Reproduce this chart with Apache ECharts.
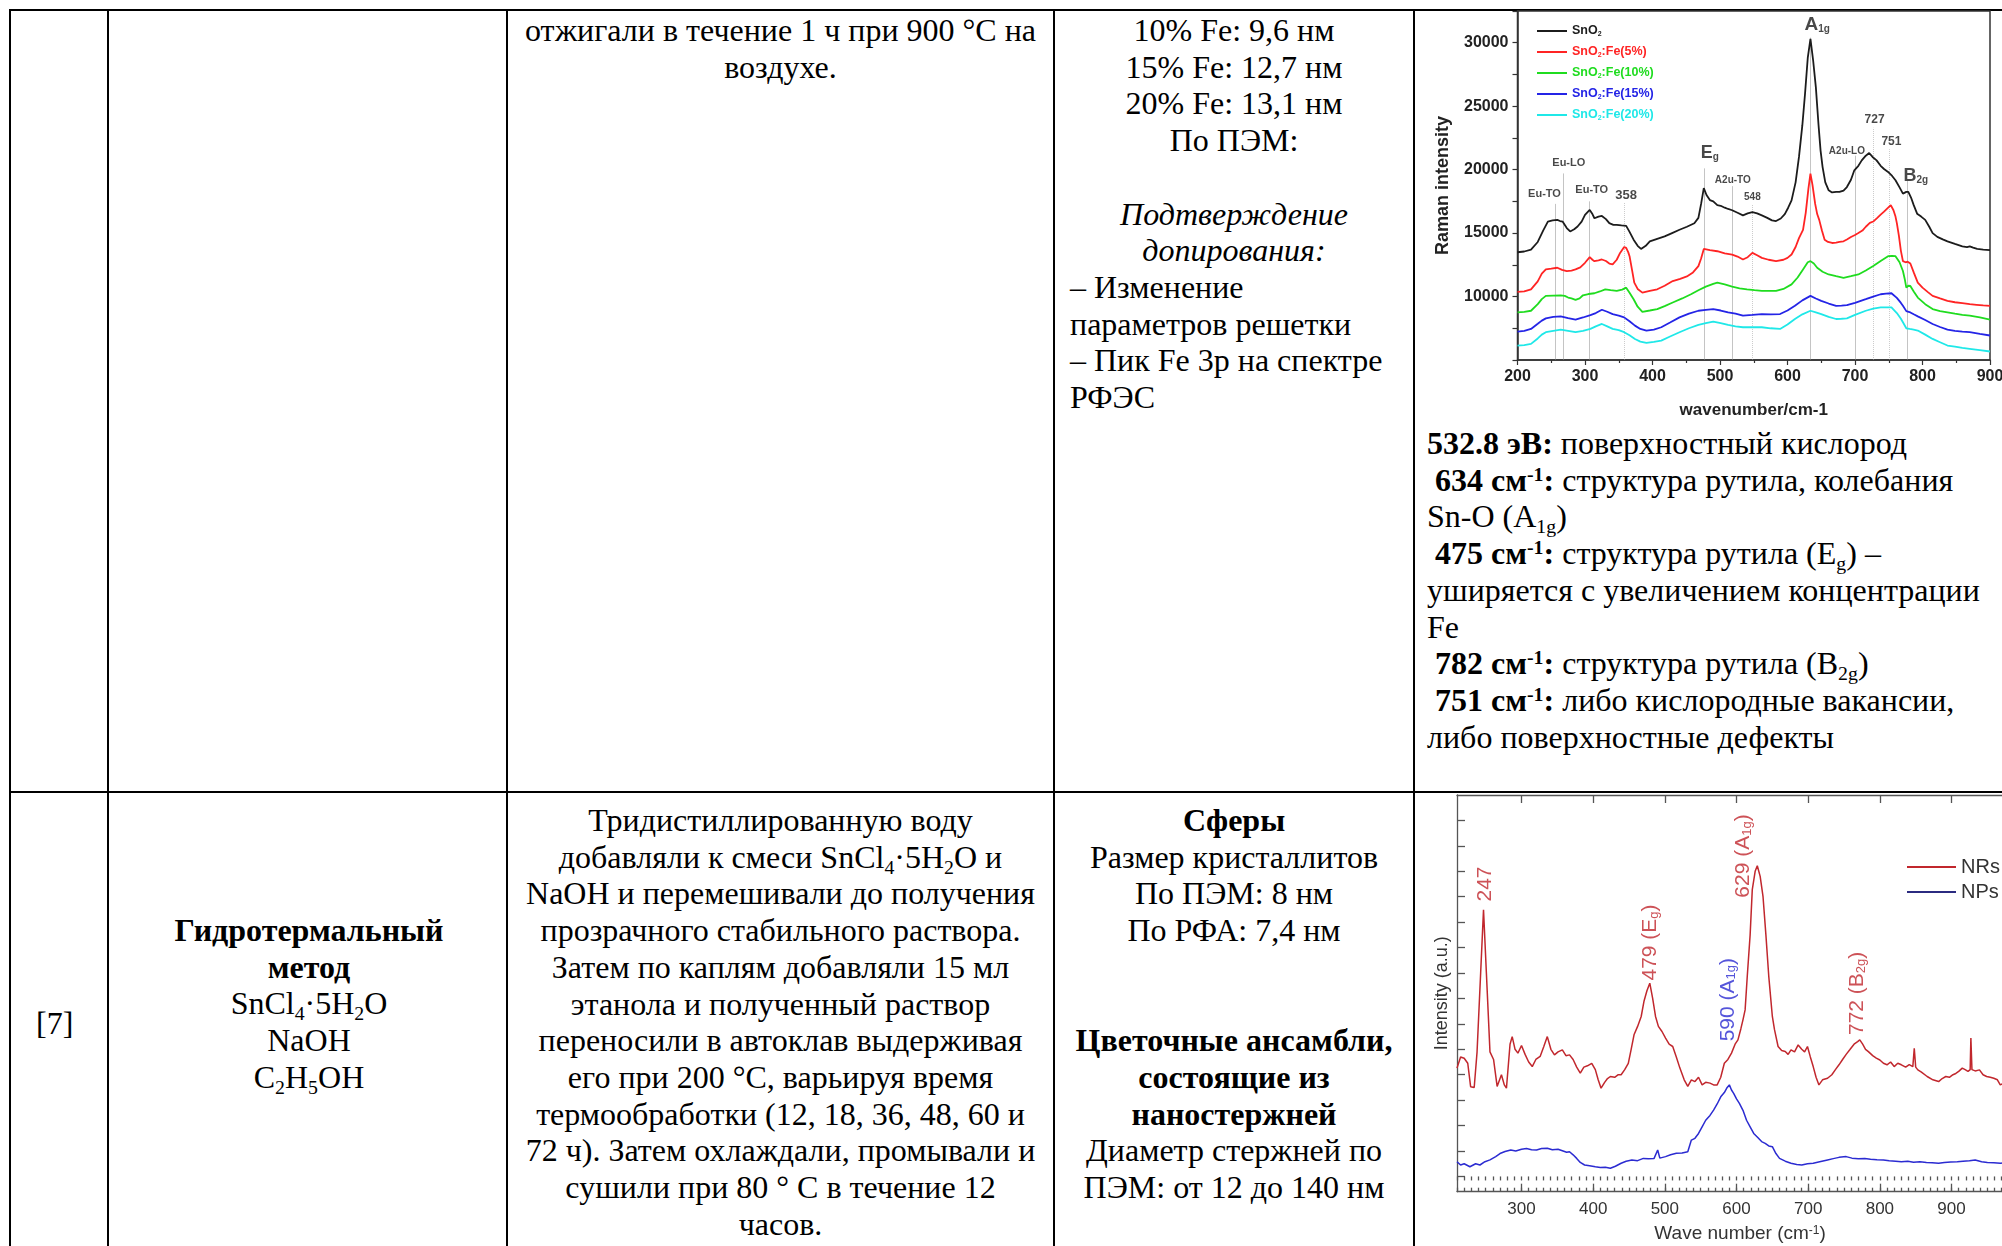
<!DOCTYPE html>
<html>
<head>
<meta charset="utf-8">
<script src="https://cdn.jsdelivr.net/npm/echarts@6/dist/echarts.min.js"></script>
<style>
html,body{margin:0;padding:0;width:2002px;height:1246px;overflow:hidden;background:#fff;}
#page{position:absolute;left:0;top:0;width:2002px;height:1246px;}
.ln{position:absolute;background:#000;}
.cell{position:absolute;font-family:'Liberation Serif','Times New Roman',serif;font-size:32px;line-height:36.7px;color:#000;white-space:nowrap;}
.c{text-align:center;}
sub{font-size:0.62em;line-height:0;vertical-align:-0.28em;}
sup{font-size:0.62em;line-height:0;vertical-align:0.5em;}
#chart{position:absolute;left:0;top:0;width:2100px;height:1246px;}
</style>
</head>
<body>
<div id="page">
  <!-- table rules -->
  <div class="ln" style="left:9px;top:9px;width:2000px;height:2px"></div>
  <div class="ln" style="left:9px;top:791px;width:2000px;height:2px"></div>
  <div class="ln" style="left:9px;top:9px;width:2px;height:1240px"></div>
  <div class="ln" style="left:107px;top:9px;width:2px;height:1240px"></div>
  <div class="ln" style="left:506px;top:9px;width:2px;height:1240px"></div>
  <div class="ln" style="left:1053px;top:9px;width:2px;height:1240px"></div>
  <div class="ln" style="left:1413px;top:9px;width:2px;height:1240px"></div>

  <!-- row 1 -->
  <div class="cell c" style="left:509px;width:543px;top:12px">отжигали в течение 1 ч при 900 °C на<br>воздухе.</div>
  <div class="cell c" style="left:1058px;width:352px;top:12px">10% Fe: 9,6 нм<br>15% Fe: 12,7 нм<br>20% Fe: 13,1 нм<br>По ПЭМ:<br>&nbsp;<br><i>Подтверждение<br>допирования:</i></div>
  <div class="cell" style="left:1070px;top:268.9px">– Изменение<br>параметров решетки<br>– Пик Fe 3p на спектре<br>РФЭС</div>
  <div class="cell" style="left:1427px;top:425px"><b>532.8 эВ:</b> поверхностный кислород<br>&nbsp;<b>634 см<sup>-1</sup>:</b> структура рутила, колебания<br>Sn-O (A<sub>1g</sub>)<br>&nbsp;<b>475 см<sup>-1</sup>:</b> структура рутила (E<sub>g</sub>) –<br>уширяется с увеличением концентрации<br>Fe<br>&nbsp;<b>782 см<sup>-1</sup>:</b> структура рутила (B<sub>2g</sub>)<br>&nbsp;<b>751 см<sup>-1</sup>:</b> либо кислородные вакансии,<br>либо поверхностные дефекты</div>

  <!-- row 2 -->
  <div class="cell" style="left:36px;top:1005px">[7]</div>
  <div class="cell c" style="left:112px;width:394px;top:912px"><b>Гидротермальный<br>метод</b><br>SnCl<sub>4</sub>·5H<sub>2</sub>O<br>NaOH<br>C<sub>2</sub>H<sub>5</sub>OH</div>
  <div class="cell c" style="left:509px;width:543px;top:802px">Тридистиллированную воду<br>добавляли к смеси SnCl<sub>4</sub>·5H<sub>2</sub>O и<br>NaOH и перемешивали до получения<br>прозрачного стабильного раствора.<br>Затем по каплям добавляли 15 мл<br>этанола и полученный раствор<br>переносили в автоклав выдерживая<br>его при 200 °C, варьируя время<br>термообработки (12, 18, 36, 48, 60 и<br>72 ч). Затем охлаждали, промывали и<br>сушили при 80 ° С в течение 12<br>часов.</div>
  <div class="cell c" style="left:1058px;width:352px;top:802px"><b>Сферы</b><br>Размер кристаллитов<br>По ПЭМ: 8 нм<br>По РФА: 7,4 нм<br>&nbsp;<br>&nbsp;<br><b>Цветочные ансамбли,<br>состоящие из<br>наностержней</b><br>Диаметр стержней по<br>ПЭМ: от 12 до 140 нм</div>
</div>
<div id="chart"></div>
<script>
// ---- Raman spectra of SnO2 and Fe-doped SnO2: [wavenumber, intensity] ----
const sno2 = [[200,13490],[210,13550],[220,13700],[230,14300],[238,15200],[245,15900],[252,16000],[259,16040],[263,15950],[267,15900],[273,15400],[278,15130],[284,15300],[289,15520],[295,15900],[300,16430],[307,16820],[311,16500],[314,16170],[320,16300],[325,16350],[331,16100],[336,15780],[342,15650],[347,15650],[354,15600],[361,15570],[366,15100],[372,14480],[378,14000],[383,13750],[390,14000],[396,14350],[407,14550],[418,14740],[429,15000],[440,15260],[451,15500],[462,15780],[468,16200],[472,17300],[476,18550],[480,18000],[485,17600],[490,17500],[496,17200],[501,17150],[507,17000],[512,16900],[518,16800],[526,16600],[534,16400],[541,16550],[548,16650],[555,16550],[562,16400],[570,16200],[577,16000],[583,15950],[590,16150],[596,16500],[601,17000],[606,17580],[612,19000],[617,21000],[622,23500],[626,26000],[630,28800],[634,30300],[638,28600],[642,26500],[646,23500],[649,21500],[652,20200],[656,19000],[661,18370],[666,18200],[672,18250],[677,18240],[683,18350],[688,18630],[694,19200],[699,19950],[705,20300],[710,20730],[716,21100],[721,21310],[726,21000],[732,20730],[738,20300],[743,20050],[749,19820],[755,19500],[760,19160],[766,18600],[771,18110],[776,18250],[779,18240],[783,17800],[787,17200],[792,16530],[798,16300],[804,16040],[810,15500],[815,15000],[822,14700],[830,14500],[837,14350],[848,14150],[859,13960],[866,13900],[870,13950],[875,13850],[881,13750],[890,13700],[900,13650]];
const fe5 = [[200,10365],[210,10400],[220,10570],[230,11200],[236,11800],[242,12140],[250,12200],[259,12270],[266,12100],[273,12000],[280,12050],[286,12140],[293,12300],[300,12660],[307,13100],[311,12900],[314,12790],[320,12850],[325,12920],[331,12800],[336,12600],[341,12530],[347,12900],[352,13440],[358,13900],[361,13830],[364,13500],[366,13180],[370,12000],[373,11100],[378,10600],[385,10310],[396,10450],[407,10570],[418,10850],[430,11220],[441,11400],[452,11610],[460,11900],[468,12400],[472,13000],[476,13750],[485,13650],[496,13570],[507,13400],[518,13310],[526,13150],[534,12920],[541,13100],[548,13440],[555,13250],[562,13050],[572,12900],[583,12790],[594,12900],[600,13050],[606,13310],[612,13900],[617,14600],[623,15260],[627,16600],[631,18500],[634,19680],[637,18800],[641,17300],[644,16500],[647,16040],[651,15200],[655,14480],[660,14300],[666,14220],[672,14250],[677,14300],[683,14350],[688,14500],[694,14690],[700,14850],[705,15000],[711,15200],[716,15500],[722,15800],[727,15910],[733,16200],[738,16450],[743,16690],[748,16950],[753,17210],[757,16800],[760,16300],[762,15780],[765,14800],[768,13600],[771,12790],[775,12700],[778,12750],[782,12600],[787,11900],[793,11100],[800,10700],[808,10350],[815,10050],[826,9850],[837,9660],[848,9550],[859,9480],[870,9400],[880,9350],[890,9300],[900,9270]];
const fe10 = [[200,8750],[210,8800],[220,8880],[230,9400],[236,9800],[242,10050],[253,10080],[264,10100],[270,10050],[275,9920],[280,9850],[286,9740],[292,9850],[297,10100],[305,10200],[314,10260],[322,10400],[330,10570],[338,10500],[347,10440],[355,10550],[361,10700],[366,10300],[372,9790],[378,9200],[385,8800],[396,8900],[407,9010],[418,9250],[430,9530],[444,9850],[457,10180],[468,10500],[479,10780],[490,11000],[496,11090],[507,10950],[518,10780],[529,10650],[540,10570],[551,10500],[562,10440],[572,10440],[583,10440],[594,10600],[606,10960],[615,11500],[623,12140],[630,12700],[634,12790],[639,12600],[644,12270],[652,11950],[661,11740],[672,11600],[683,11480],[694,11600],[705,11740],[716,12050],[727,12400],[738,12800],[749,13180],[755,13200],[760,13180],[766,12700],[771,12010],[774,11300],[776,10700],[779,10850],[782,10830],[787,10400],[793,9920],[804,9400],[815,9010],[826,8850],[837,8750],[848,8650],[859,8560],[870,8490],[885,8350],[900,8180]];
const fe15 = [[200,7240],[210,7300],[220,7450],[230,7850],[236,8100],[242,8280],[253,8400],[264,8440],[275,8300],[286,8180],[297,8350],[308,8540],[316,8700],[325,8960],[333,8800],[341,8620],[350,8500],[358,8360],[366,8050],[374,7710],[382,7450],[391,7320],[402,7400],[413,7580],[426,7950],[440,8360],[454,8650],[468,8880],[479,8950],[490,9010],[501,8900],[512,8750],[523,8650],[534,8490],[548,8550],[562,8620],[575,8600],[589,8620],[600,8900],[611,9270],[622,9700],[634,10050],[642,9850],[650,9660],[661,9450],[672,9270],[680,9280],[688,9320],[700,9500],[716,9790],[727,10000],[738,10180],[746,10230],[754,10260],[762,9900],[768,9500],[771,9270],[776,8850],[782,8750],[787,8600],[793,8440],[804,8150],[815,7840],[826,7600],[837,7400],[848,7300],[859,7240],[870,7190],[885,7050],[900,6930]];
const fe20 = [[200,6140],[210,6180],[220,6270],[230,6700],[236,7000],[242,7190],[253,7300],[264,7400],[275,7300],[286,7190],[297,7300],[308,7450],[316,7650],[325,7840],[333,7650],[341,7450],[350,7350],[358,7190],[366,6950],[374,6660],[382,6450],[391,6350],[402,6420],[413,6530],[426,6850],[440,7190],[454,7500],[468,7760],[479,7900],[490,8020],[501,7900],[512,7760],[523,7650],[534,7580],[548,7580],[562,7580],[575,7500],[589,7450],[600,7800],[611,8230],[622,8600],[634,8880],[642,8750],[650,8620],[661,8400],[672,8230],[680,8250],[688,8280],[700,8550],[716,8880],[727,9050],[738,9140],[746,9150],[754,9140],[762,8700],[768,8250],[771,7970],[776,7500],[781,7450],[787,7400],[793,7320],[804,7000],[815,6660],[826,6400],[837,6140],[848,6050],[859,5950],[870,5880],[885,5780],[900,5670]];

const ramanNames = ['SnO2', 'SnO2:Fe(5%)', 'SnO2:Fe(10%)', 'SnO2:Fe(15%)', 'SnO2:Fe(20%)'];
const ramanColors = ['#1c1c1c', '#ff2424', '#1fdc1f', '#2424e6', '#1fe8e8'];
const ramanData = [sno2, fe5, fe10, fe15, fe20];
const ramanYLabels = [10000, 15000, 20000, 25000, 30000];

// phonon mode markers: position, top of the marker line, dotted or solid
const modeLineX = [256, 268, 307, 358, 477, 518, 548, 634, 700, 727, 751, 778];
const modeLineTop = [17300, 19700, 17500, 17400, 20100, 18700, 17300, 30400, 21100, 23300, 21600, 19100];
const modeLineDotted = [0, 0, 0, 1, 0, 0, 1, 0, 0, 1, 1, 0];
const modeNames = ['Eu-TO', 'Eu-LO', 'Eu-TO', '358', 'E{s|g}', 'A2u-TO', '548', 'A{s|1g}', 'A2u-LO', '727', '751', 'B{s|2g}'];
const modeNameX = [240, 276, 310, 361, 485, 519, 548, 644, 688, 729, 754, 790];
const modeNameY = [18100, 20500, 18400, 18000, 21300, 19200, 17850, 31400, 21450, 23900, 22200, 19500];
const modeNameSize = [11, 11, 11, 13, 18, 10, 10, 19, 10, 12, 12, 18];

// ---- hydrothermal SnO2: nanorods vs nanoparticles, [wavenumber, intensity a.u.] ----
const nrs = [[210,4.26],[215,4.7],[220,4.65],[225,4.45],[229,3.53],[234,3.5],[238,4.9],[243,8.0],[247,10.49],[251,8.0],[256,4.9],[261,4.6],[266,3.54],[272,4.0],[276,3.6],[279,3.47],[284,5.2],[287,5.5],[291,5.0],[295,4.85],[300,5.15],[305,4.8],[310,4.5],[315,4.32],[320,4.6],[326,4.72],[331,5.1],[336,5.5],[341,5.0],[346,4.78],[351,4.9],[357,4.98],[362,4.75],[367,4.78],[372,4.6],[377,4.3],[382,4.06],[387,4.3],[392,4.35],[398,4.45],[403,4.2],[407,3.8],[411,3.47],[416,3.7],[420,3.85],[424,3.93],[430,3.9],[435,4.0],[439,4.0],[444,4.2],[449,4.45],[453,5.0],[457,5.57],[462,5.9],[467,6.29],[471,6.9],[475,7.3],[479,7.6],[483,7.0],[487,6.29],[491,5.9],[496,5.7],[501,5.44],[506,5.2],[511,5.11],[516,4.7],[521,4.26],[527,3.8],[532,3.54],[537,3.8],[542,3.73],[547,3.9],[552,3.6],[557,3.7],[563,3.67],[568,3.6],[573,3.6],[578,3.9],[583,4.45],[588,4.6],[593,4.85],[598,5.2],[602,5.37],[606,5.8],[609,6.16],[612,6.55],[615,7.87],[619,9.5],[622,11.28],[626,12.0],[629,12.22],[633,11.8],[637,11.0],[641,9.5],[645,7.87],[650,6.29],[653,5.77],[658,5.11],[663,4.95],[668,4.91],[672,4.8],[676,4.98],[681,4.9],[686,5.17],[691,5.0],[695,4.9],[699,5.11],[703,4.7],[707,4.32],[711,3.9],[715,3.6],[720,3.8],[727,3.86],[733,4.0],[738,4.2],[743,4.39],[748,4.6],[753,4.8],[758,4.98],[764,5.2],[769,5.3],[772,5.37],[776,5.2],[780,5.0],[784,4.91],[790,4.75],[795,4.65],[800,4.58],[805,4.45],[810,4.39],[815,4.5],[820,4.32],[825,4.45],[830,4.39],[836,4.3],[841,4.4],[846,4.32],[848,5.04],[850,4.3],[853,4.19],[858,4.1],[866,3.93],[874,3.8],[882,3.73],[887,3.85],[892,3.93],[897,3.9],[902,4.0],[906,4.05],[910,4.13],[915,4.26],[919,4.2],[923,4.13],[926,4.2],[927,5.44],[928.5,4.2],[933,4.15],[939,4.19],[944,4.0],[949,3.93],[954,3.9],[959,3.86],[964,3.8],[968,3.6],[975,3.7],[985,3.65],[1000,3.7]];
const nps = [[210,0.58],[215,0.45],[220,0.5],[228,0.38],[236,0.5],[242,0.45],[249,0.58],[256,0.65],[264,0.78],[270,0.9],[277,0.98],[285,1.04],[292,1.0],[300,1.07],[307,1.1],[314,1.05],[321,1.04],[328,1.1],[336,1.11],[343,1.05],[351,1.07],[358,1.0],[363,0.95],[367,0.97],[372,0.85],[377,0.71],[382,0.55],[388,0.45],[395,0.42],[403,0.38],[410,0.35],[417,0.36],[424,0.32],[431,0.4],[439,0.52],[446,0.6],[454,0.65],[462,0.62],[470,0.71],[477,0.7],[485,0.71],[490,1.04],[493,0.72],[501,0.78],[508,0.85],[516,0.91],[524,0.92],[532,0.97],[537,1.43],[542,1.5],[547,1.69],[552,1.95],[557,2.21],[563,2.4],[568,2.61],[573,2.85],[578,3.13],[583,3.3],[587,3.5],[590,3.6],[593,3.4],[596,3.27],[600,3.05],[604,2.87],[609,2.6],[614,2.21],[619,1.95],[624,1.69],[630,1.52],[635,1.37],[640,1.3],[645,1.2],[650,1.17],[655,0.9],[660,0.71],[668,0.6],[676,0.52],[684,0.47],[691,0.45],[699,0.5],[707,0.52],[716,0.58],[727,0.65],[735,0.7],[743,0.75],[753,0.78],[761,0.72],[770,0.7],[779,0.71],[787,0.68],[796,0.66],[805,0.65],[813,0.62],[822,0.6],[830,0.58],[839,0.6],[847,0.56],[856,0.58],[865,0.55],[873,0.54],[882,0.52],[890,0.55],[899,0.57],[908,0.58],[916,0.6],[925,0.62],[933,0.65],[942,0.58],[950,0.55],[959,0.54],[968,0.52],[980,0.55],[1000,0.55]];

const morphNames = ['NRs', 'NPs'];
const morphColors = ['#c1272d', '#2b2bd1'];
const morphLegendColors = ['#c1272d', '#2b2b80'];
const waveLabels = [300, 400, 500, 600, 700, 800, 900];
const intensityTicks = [0, 1, 2, 3, 4, 5, 6, 7, 8, 9, 10, 11, 12, 13, 14];
const peakNames = ['247', '479 (E{s|g})', '629 (A{s|1g})', '590 (A{s|1g})', '772 (B{s|2g})'];
const peakNameX = [249, 480, 610, 588, 769];
const peakNameY = [11.5, 9.2, 12.6, 6.95, 7.2];
const peakNameColor = ['#c1272d', '#c1272d', '#c1272d', '#2b2bd1', '#c1272d'];

const SANS = "'Liberation Sans', Arial, sans-serif";
const chart = echarts.init(document.getElementById('chart'), null, { renderer: 'canvas' });

const ramanGrid = { left: 1517.5, top: 11, width: 472.5, height: 349, show: true, borderColor: '#333', borderWidth: 1.5, backgroundColor: 'transparent' };
const morphGrid = { left: 1457, top: 795, width: 566.2, height: 396.7 };

const series = [];
ramanData.forEach((d, i) => {
  series.push({
    name: ramanNames[i], type: 'line', xAxisIndex: 0, yAxisIndex: 0, data: d,
    showSymbol: false, symbol: 'none', color: ramanColors[i], z: 3,
    lineStyle: { color: ramanColors[i], width: 1.8 }, silent: true
  });
});
// thin markers for the assigned phonon modes
series.push({
  type: 'lines', coordinateSystem: 'cartesian2d', xAxisIndex: 0, yAxisIndex: 0, z: 1, silent: true,
  data: modeLineX.map((x, i) => ({
    coords: [[x, 5000], [x, modeLineTop[i]]],
    lineStyle: { color: modeLineDotted[i] ? '#9a9a9a' : '#8a8a8a', width: 1, type: modeLineDotted[i] ? 'dotted' : 'solid' }
  }))
});
series.push({
  type: 'scatter', xAxisIndex: 0, yAxisIndex: 0, symbolSize: 0, z: 4, silent: true,
  data: modeNames.map((t, i) => ({
    value: [modeNameX[i], modeNameY[i]],
    label: {
      show: true, position: 'inside', formatter: t, color: '#1a1a1a', fontFamily: SANS,
      fontWeight: 'bold', fontSize: modeNameSize[i],
      rich: { s: { fontSize: Math.round(modeNameSize[i] * 0.55), fontWeight: 'bold', fontFamily: SANS, verticalAlign: 'bottom', color: '#1a1a1a' } }
    }
  }))
});
[nrs, nps].forEach((d, i) => {
  series.push({
    name: morphNames[i], type: 'line', xAxisIndex: 1, yAxisIndex: 1, data: d,
    showSymbol: false, symbol: 'none', color: morphLegendColors[i], silent: true,
    lineStyle: { color: morphColors[i], width: 1.5 }
  });
});
series.push({
  type: 'scatter', xAxisIndex: 1, yAxisIndex: 1, symbolSize: 0, z: 4, silent: true,
  data: peakNames.map((t, i) => ({
    value: [peakNameX[i], peakNameY[i]],
    label: {
      show: true, position: 'inside', rotate: 90, formatter: t, color: peakNameColor[i],
      fontFamily: SANS, fontSize: 21,
      rich: { s: { fontSize: 13, fontFamily: SANS, verticalAlign: 'bottom', color: peakNameColor[i] } }
    }
  }))
});

const morphTickLine = { color: '#555', width: 1.3 };

chart.setOption({
  animation: false,
  textStyle: { fontFamily: SANS },
  grid: [ramanGrid, morphGrid],
  legend: [
    {
      orient: 'vertical', left: 1532, top: 19, itemWidth: 30, itemHeight: 2, itemGap: 7,
      icon: 'rect', selectedMode: false,
      formatter: (n) => n.replace('O2', 'O{s|2}'),
      textStyle: { fontSize: 12.5, fontWeight: 'bold', lineHeight: 14, fontFamily: SANS,
        rich: { s: { fontSize: 7, fontWeight: 'bold', fontFamily: SANS, verticalAlign: 'bottom' } } },
      data: ramanNames.map((n, i) => ({ name: n, textStyle: { color: ramanColors[i] } }))
    },
    {
      orient: 'vertical', left: 1902, top: 852, itemWidth: 49, itemHeight: 2, itemGap: 5,
      icon: 'rect', selectedMode: false,
      textStyle: { fontSize: 20, color: '#333', lineHeight: 20, fontFamily: SANS },
      data: morphNames
    }
  ],
  xAxis: [
    {
      gridIndex: 0, type: 'value', min: 200, max: 900, interval: 100,
      axisLine: { show: true, lineStyle: { color: '#333', width: 1.5 } },
      axisTick: { show: true, inside: false, length: 5, lineStyle: { color: '#333', width: 1.2 } },
      minorTick: { show: true, splitNumber: 2, length: 3, lineStyle: { color: '#333', width: 1.2 } },
      splitLine: { show: false },
      axisLabel: { fontSize: 16, fontWeight: 'bold', color: '#222', margin: 9, fontFamily: SANS, formatter: (v) => String(v) },
      name: 'wavenumber/cm-1', nameLocation: 'middle', nameGap: 42,
      nameTextStyle: { fontSize: 17, fontWeight: 'bold', color: '#222', fontFamily: SANS }
    },
    {
      gridIndex: 1, type: 'value', min: 210, max: 1000, position: 'bottom',
      axisLine: { show: true, onZero: false, lineStyle: morphTickLine },
      axisTick: { show: true, inside: true, length: 8, customValues: waveLabels, lineStyle: morphTickLine },
      splitLine: { show: false },
      axisLabel: { customValues: waveLabels, fontSize: 17, color: '#333', margin: 9, fontFamily: SANS },
      name: 'Wave number (cm{sup|-1})', nameLocation: 'middle', nameGap: 33,
      nameTextStyle: { fontSize: 19, color: '#333', fontFamily: SANS,
        rich: { sup: { fontSize: 12, color: '#333', fontFamily: SANS, verticalAlign: 'top' } } }
    },
    {
      gridIndex: 1, type: 'value', min: 210, max: 1000, position: 'top',
      axisLine: { show: true, onZero: false, lineStyle: morphTickLine },
      axisTick: { show: true, inside: true, length: 8, customValues: waveLabels, lineStyle: morphTickLine },
      splitLine: { show: false }, axisLabel: { show: false }
    },
    {
      gridIndex: 1, type: 'value', min: 210, max: 1000, interval: 10, position: 'top',
      axisLine: { show: false },
      axisTick: { show: true, inside: true, length: 4, lineStyle: morphTickLine },
      splitLine: { show: false }, axisLabel: { show: false }
    },
    {
      gridIndex: 1, type: 'value', min: 210, max: 1000, interval: 10, position: 'bottom',
      axisLine: { show: false },
      axisTick: { show: true, inside: true, length: 4, lineStyle: morphTickLine },
      splitLine: { show: false }, axisLabel: { show: false }
    }
  ],
  yAxis: [
    {
      gridIndex: 0, type: 'value', min: 5000, max: 32500, interval: 2500,
      axisLine: { show: true, lineStyle: { color: '#333', width: 1.5 } },
      axisTick: { show: true, inside: false, length: 5, lineStyle: { color: '#333', width: 1.2 } },
      splitLine: { show: false },
      axisLabel: { customValues: ramanYLabels, fontSize: 16, fontWeight: 'bold', color: '#222', margin: 9, fontFamily: SANS, formatter: (v) => String(v) },
      name: 'Raman intensity', nameLocation: 'middle', nameGap: 65,
      nameTextStyle: { fontSize: 18, fontWeight: 'bold', color: '#222', fontFamily: SANS }
    },
    {
      gridIndex: 1, type: 'value', min: -0.6, max: 15,
      axisLine: { show: true, onZero: false, lineStyle: morphTickLine },
      axisTick: { show: true, inside: true, length: 8, customValues: intensityTicks, lineStyle: morphTickLine },
      splitLine: { show: false }, axisLabel: { show: false },
      name: 'Intensity (a.u.)', nameLocation: 'middle', nameGap: 6,
      nameTextStyle: { fontSize: 18, color: '#333', fontFamily: SANS }
    }
  ],
  series: series
});
</script>
</body>
</html>
